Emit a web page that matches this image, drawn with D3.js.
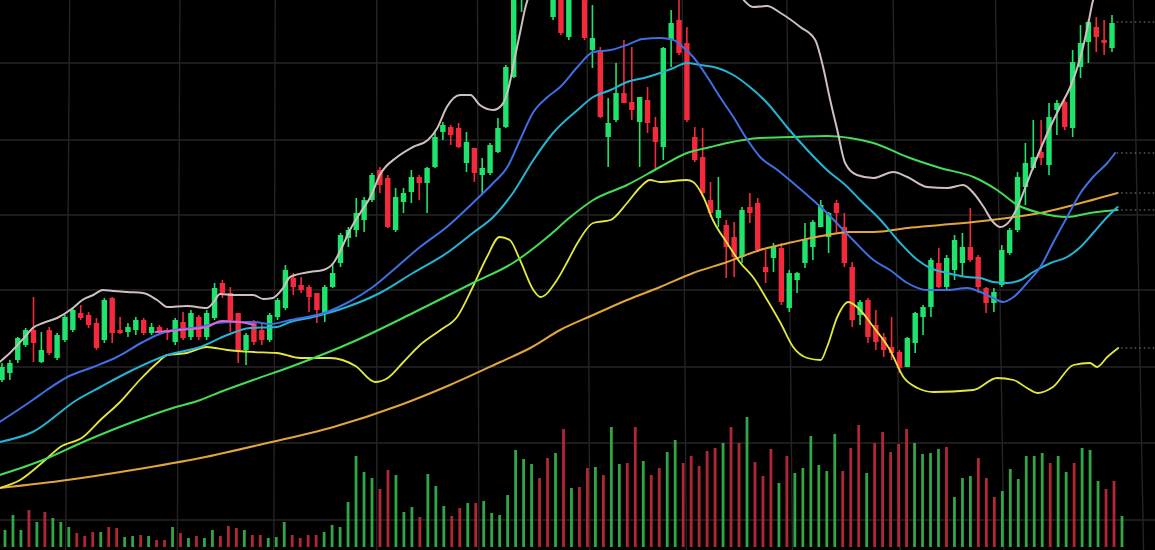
<!DOCTYPE html>
<html><head><meta charset="utf-8">
<script src="https://cdn.jsdelivr.net/npm/d3@7"></script>
<style>html,body{margin:0;padding:0;background:#000;overflow:hidden}</style>
</head><body><svg id="c" width="1155" height="550"></svg>
<script>
// ---- DATA ----
// candles: [open, high, low, close]
const candles = [
[17.0,18.7,16.8,18.3],[17.7,19.0,17.0,18.7],[19.0,21.3,18.7,21.2],[20.5,22.2,20.3,22.0],[22.0,25.3,18.8,20.7],
[18.8,21.8,18.7,20.0],[22.0,22.3,19.5,19.7],[19.2,21.7,19.0,21.5],[21.0,23.5,20.8,23.3],[22.0,24.2,21.8,24.0],
[23.7,24.5,23.0,23.2],[23.5,23.8,22.2,22.5],[22.7,23.2,20.0,20.2],[21.0,25.2,20.7,25.0],[25.2,25.3,20.7,21.7],
[22.0,23.3,21.6,21.7],[21.8,22.7,21.3,22.3],[22.0,23.3,21.5,23.0],[23.0,23.2,21.5,21.7],[21.7,22.7,21.5,22.3],
[22.3,22.5,21.6,21.8],[22.0,22.2,21.0,21.7],[20.8,23.2,20.5,23.0],[22.8,23.8,21.0,21.2],[21.3,24.0,21.0,23.7],
[23.3,23.5,21.0,21.3],[21.3,24.0,21.0,23.7],[23.2,26.7,23.0,26.2],[26.7,27.0,25.2,25.7],[25.7,26.3,21.8,23.0],
[23.7,23.7,18.7,20.0],[20.0,21.7,18.5,21.5],[22.8,23.0,20.5,20.8],[22.0,22.8,20.5,21.0],[21.0,23.7,20.8,23.5],
[23.3,25.2,23.0,25.0],[24.2,28.5,24.0,28.0],[27.2,27.7,25.5,26.3],[26.5,27.3,25.7,26.0],[26.3,26.5,23.8,25.3],
[25.7,25.7,22.7,24.0],[23.7,26.5,22.8,26.3],[26.3,28.7,26.2,27.7],[28.7,31.7,28.3,31.5],[31.2,32.3,30.3,32.0],
[32.0,35.2,31.3,33.7],[33.0,35.3,31.8,35.0],[35.0,37.7,34.8,37.5],[38.0,38.3,35.7,36.5],[37.2,37.5,32.2,32.3],
[32.0,36.2,31.8,35.3],[34.8,36.2,33.7,35.7],[35.8,38.0,34.7,37.3],[37.3,37.5,35.0,36.7],[36.7,38.3,33.7,38.2],
[38.3,41.8,38.2,41.3],[41.8,42.8,41.0,42.5],[42.3,42.5,40.5,41.5],[42.2,42.7,40.2,40.3],[38.7,41.8,37.8,40.8],
[40.2,40.2,36.8,37.7],[37.5,39.2,35.5,38.2],[37.7,40.7,37.5,40.5],[39.8,43.2,39.7,42.2],[42.3,48.5,42.2,48.3],
[47.3,56.5,47.2,55.5],[55.5,60.0,53.8,59.0],[59.0,62.0,57.0,61.0],[61.5,62.0,58.0,59.0],[59.5,60.0,56.0,56.5],
[53.3,57.0,53.0,56.5],[57.0,57.5,51.5,51.7],[51.3,57.0,51.0,56.0],[57.0,58.0,55.5,56.0],[56.0,57.0,51.0,51.2],
[50.0,54.5,48.2,51.2],[50.0,50.3,43.2,43.3],[41.3,45.2,38.3,42.7],[43.0,48.7,42.8,45.7],[45.7,51.0,44.7,44.7],
[44.8,50.3,43.0,44.0],[42.8,45.3,38.3,45.3],[45.0,46.3,41.7,42.7],[42.3,43.3,38.0,40.8],[40.3,50.3,39.0,50.2],
[51.0,54.0,48.3,52.7],[53.0,56.0,49.5,49.7],[50.7,52.3,42.8,43.0],[41.3,42.3,38.8,39.0],[39.3,42.2,35.3,35.7],
[35.0,36.8,33.3,33.7],[33.2,37.3,32.3,34.0],[32.5,33.0,27.2,30.3],[31.3,32.8,27.3,29.3],[29.3,34.3,28.7,34.0],
[34.3,35.7,32.7,33.7],[34.7,35.2,29.8,30.0],[28.3,30.0,26.7,27.8],[29.2,30.7,27.8,30.3],[30.2,30.7,24.5,24.8],
[24.2,28.0,23.8,27.7],[27.0,27.8,25.7,27.7],[28.7,32.7,28.2,31.0],[30.3,33.0,29.0,32.8],[32.3,35.0,32.3,34.5],
[31.3,33.8,29.7,33.7],[34.7,35.0,31.7,33.7],[32.3,33.7,28.3,28.7],[28.3,28.8,22.3,23.0],[23.5,25.0,22.5,24.8],
[25.0,25.2,20.7,21.3],[22.5,24.0,20.0,20.8],[21.3,21.7,19.3,20.0],[20.3,23.3,19.0,19.7],[19.8,20.0,17.7,18.2],
[18.3,21.3,18.3,21.2],[20.7,23.8,19.7,23.7],[23.3,24.5,21.5,24.3],[24.3,29.2,23.3,29.0],[28.7,30.2,26.2,26.3],
[26.3,29.5,26.0,29.2],[28.0,31.5,27.0,31.0],[28.7,31.7,27.3,30.3],[30.3,34.2,28.8,29.0],[29.3,29.5,25.7,26.3],
[26.2,26.3,23.7,24.7],[24.7,26.2,23.8,25.8],[26.5,30.5,26.3,30.0],[29.7,32.2,29.5,32.0],[32.0,37.8,31.8,37.3],
[36.3,40.7,34.5,38.7],[38.2,43.0,38.0,39.3],[39.8,43.0,38.5,39.2],[38.5,44.7,37.5,43.3],[44.0,45.0,41.5,44.7],
[44.8,45.0,42.0,42.3],[42.2,50.0,41.3,48.8],[48.3,52.5,47.2,50.7],[50.8,53.0,48.7,52.8],[52.3,53.3,49.8,51.3],
[51.0,53.0,49.5,50.7],[50.2,53.5,49.8,52.7]
];

const volumes = [
20,17,32,17,37,25,35,29,25,20, 14,11,15,15,20,19,10,11,12,11,
7,7,20,14,9,11,9,17,11,21, 19,17,12,12,9,10,25,12,9,12,
12,15,22,20,45,91,75,69,58,77, 72,35,40,30,73,61,41,31,39,44,
44,46,34,32,52,97,88,83,69,89, 94,118,59,60,79,80,72,120,83,84,
120,86,72,79,95,107,84,91,81,96, 99,104,120,104,130,85,71,98,64,91,
74,79,111,82,76,113,76,99,122,74, 104,115,95,103,118,104,93,94,98,100,
50,69,71,89,69,50,56,78,68,91, 91,94,84,91,75,84,99,97,66,58,
66,31
];

// moving-average style lines: [candle index, value]
const maWhite = [[-0.3,18.8],[1,19.7],[2.9,21.3],[3.9,22.2],[5.2,22.7],[7,23.2],[9,24.2],[10.2,25],[11.6,25.5],[12.8,26],[14.1,25.9],[15.9,25.8],[17.9,25.7],[19.7,25],[21,24.3],[23.5,24.4],[26,24.2],[26.8,24.7],[27.7,25.6],[29.4,25.5],[31.9,25.5],[33.2,25.1],[34.4,25.2],[35.7,26.2],[36.6,27.3],[39.1,27.8],[40.8,28],[42.1,28.7],[43.2,30.3],[44.2,32],[45.5,33.7],[46.8,35.3],[48,37.5],[50.2,39.3],[52.2,40.3],[54.1,41],[55.3,42.2],[56.5,44.3],[58.2,45.5],[59.5,45.5],[60.7,44.5],[62.4,44],[63.5,44.5],[64.5,46.7],[64.9,48.3],[65.8,51.7],[66.5,54.3],[67.7,56.5],[76,59],[88.7,58],[93.1,56],[95.4,54.3],[97.2,54.4],[98.9,53.7],[101.4,52.3],[103.3,51],[104.3,48.3],[105.2,45],[106.1,42],[107.1,38.7],[108.6,37.5],[110.7,37.2],[113.2,37.8],[115,37.3],[117.5,36.3],[120.1,36.2],[122.1,36.5],[123.4,35.7],[124.7,34.3],[125.9,32.8],[126.8,32.3],[128.1,33],[129,34.3],[130.2,36.7],[131.5,39.3],[132.8,41.7],[134.4,44.3],[135.7,46.3],[137,49.3],[137.9,52.3],[138.6,55],[139.5,56.5]];
const maBlue = [[-0.3,12.8],[3.9,15.0],[5.7,16.0],[8.3,17.3],[11.6,18.3],[14.6,19.3],[17.9,20.8],[19.7,21.5],[21.7,22.0],[25.2,22.3],[27.3,22.7],[29.4,22.8],[31.9,22.8],[34.1,22.6],[36.6,23.0],[41.3,23.8],[43.8,24.7],[47.1,26.3],[49.7,28.0],[53.1,30.3],[56.5,32.3],[59.8,34.7],[62.4,36.7],[64.2,38.3],[65.8,41.0],[67.5,43.8],[69.3,45.3],[70.9,46.3],[73.1,48.3],[75.1,49.8],[77.3,50.0],[79.4,50.5],[81.4,51.1],[83.6,51.2],[85.3,51.0],[86.5,50.3],[87.8,49.3],[89.6,47.3],[91.2,45.3],[92.9,43.3],[94.7,41.0],[96.3,39.3],[98.5,38.0],[100.5,36.7],[103.0,35.0],[104.8,33.7],[106.5,32.3],[108.1,31.0],[110.7,29.0],[112.8,28.0],[115.0,26.7],[117.5,26.0],[120.1,26.0],[122.6,26.2],[124.3,25.8],[125.9,25.2],[127.2,24.8],[128.5,25.3],[130.2,26.7],[131.9,28.3],[133.5,30.7],[135.3,33.3],[137.0,35.7],[138.6,37.3],[140.4,38.7],[141.4,39.7]];
const maCyan = [[-0.3,10.8],[3.9,11.8],[9.5,15.0],[12.5,16.3],[16.6,18.0],[21.0,19.5],[25.2,20.3],[28.6,21.5],[31.5,22.2],[34.9,22.3],[36.6,22.8],[39.5,23.3],[43.8,24.3],[48.0,25.7],[52.2,27.7],[56.5,29.7],[59.8,31.7],[62.4,33.3],[64.9,35.7],[67.5,39.0],[70.0,41.7],[73.1,44.0],[75.1,45.3],[77.3,46.0],[79.4,46.8],[82.0,47.3],[83.6,47.7],[85.3,48.2],[87.0,48.7],[88.7,48.5],[90.9,48.2],[92.9,47.5],[95.0,46.3],[97.2,44.7],[99.7,42.3],[102.3,40.0],[104.8,38.0],[107.4,36.3],[109.0,35.0],[111.6,33.0],[114.1,30.7],[116.3,29.0],[117.9,28.2],[120.1,27.7],[122.6,27.3],[124.3,27.2],[125.9,26.8],[127.7,26.7],[129.4,27.0],[131.0,27.8],[133.2,28.7],[135.3,29.3],[137.0,30.3],[138.6,31.7],[140.4,33.3],[141.7,34.3]];
const maGreen = [[-0.3,7.5],[5.2,9.0],[10.3,10.8],[16.6,12.8],[21.7,14.2],[25.2,15.0],[27.7,15.8],[31.9,17.0],[36.6,18.3],[45.1,21.0],[52.2,23.7],[59.8,26.7],[64.9,28.7],[69.3,31.3],[72.2,33.3],[75.1,35.0],[79.4,36.5],[83.6,38.3],[87.0,39.7],[90.0,40.3],[92.1,40.7],[96.3,41.2],[100.5,41.3],[104.8,41.4],[107.7,41.2],[110.7,40.7],[115.0,39.3],[119.2,38.2],[123.4,37.3],[126.4,36.0],[129.0,34.5],[131.9,33.7],[135.3,33.3],[138.2,33.7],[141.7,34.0]];
const maYellow = [[-0.3,6.2],[2.3,7.0],[5.2,8.8],[7.4,10.3],[10.3,11.3],[12.5,13.0],[15.0,14.8],[17.5,17.0],[19.7,18.7],[21.0,19.5],[23.5,19.7],[26.0,20.3],[28.6,20.0],[31.9,19.8],[34.9,19.7],[37.9,19.2],[41.7,19.2],[44.9,18.4],[47.4,16.8],[49.0,17.2],[51.0,18.8],[53.1,20.5],[55.7,22.0],[57.8,23.3],[59.8,26.3],[61.6,29.3],[63.2,31.3],[64.5,31.0],[65.8,29.0],[67.5,26.0],[68.4,25.3],[70.5,27.0],[71.8,28.8],[73.1,30.7],[75.1,32.7],[77.3,33.0],[79.4,34.7],[81.1,36.3],[82.3,37.0],[83.6,36.8],[87.0,37.0],[87.8,36.8],[89.1,35.3],[90.3,33.0],[92.1,30.7],[93.8,28.7],[95.4,27.3],[97.2,25.0],[98.9,22.7],[100.5,20.3],[102.3,19.2],[104.0,19.0],[104.8,20.3],[106.1,23.3],[107.5,24.8],[109.0,24.0],[110.7,22.3],[112.8,20.0],[114.5,17.3],[116.3,16.2],[118.3,15.8],[123.4,16.0],[126.4,17.2],[128.5,17.0],[130.2,16.2],[131.5,15.7],[133.5,16.3],[136.1,18.5],[138.2,18.7],[139.1,18.3],[140.4,19.3],[141.8,20.2]];
const maOrange = [[-0.3,6.2],[8.3,7.0],[16.6,8.0],[25.2,9.2],[33.7,10.7],[42.1,12.3],[50.6,14.5],[56.9,16.5],[63.3,18.8],[67.1,20.2],[70.9,22.0],[75.1,23.5],[79.4,25.0],[83.6,26.3],[87.8,27.7],[92.1,28.8],[96.3,30.0],[100.5,30.8],[104.8,31.5],[107.7,31.8],[110.7,31.8],[115.0,32.2],[119.2,32.5],[123.4,32.8],[127.7,33.2],[131.9,33.7],[136.1,34.5],[141.7,35.7]];
const maMagenta = [[19.5,21.8],[22.6,22.0],[26.0,22.3],[27.9,22.9],[30.2,22.8],[32.1,22.5]];

// last-value markers at the right edge
const lastMarks = [52.8, 39.7, 35.7, 34.0, 20.2];
// grid positions
const gridPrice = [48.7, 41.0, 33.5, 26.0, 18.3, 10.7, 3.0];
const gridIdx = [8.6, 22.6, 34.7, 47.6, 60.4, 74.3, 86.4, 99.7, 113.2, 126.2, 143.7];

// ---- DRAW ----
const W = 1155, H = 550;
const svg = d3.select("#c");
svg.append("rect").attr("width", W).attr("height", H).attr("fill", "#000");

const x = d3.scaleLinear().domain([0, 141]).range([2, 1112]);
const xv = d3.scaleLinear().domain([0, 141]).range([-3, 1122]);
const y = d3.scaleLinear().domain([0, 55]).range([550, 0]);
const yv = d3.scaleLinear().domain([0, 130]).range([547, 417]);

const grid = svg.append("g").attr("stroke", "#242424").attr("stroke-width", 1.4);
grid.selectAll("line.h").data(gridPrice).join("line").attr("class", "h")
  .attr("x1", 0).attr("x2", W).attr("y1", d => y(d)).attr("y2", d => y(d));
grid.selectAll("line.v").data(gridIdx).join("line").attr("class", "v")
  .attr("x1", d => x(d)).attr("x2", d => xv(d)).attr("y1", 0).attr("y2", H);

const UP = "#1fe36c", DOWN = "#f42a3c";
const VUP = "#35b84c", VDOWN = "#c72a3c";
const isUp = i => candles[i][3] >= candles[i][0];

// volume
svg.append("g").selectAll("rect").data(volumes).join("rect")
  .attr("x", (d, i) => xv(i) - 1.4).attr("width", 2.8)
  .attr("y", d => yv(d)).attr("height", d => yv(0) - yv(d))
  .attr("fill", (d, i) => isUp(i) ? VUP : VDOWN).attr("opacity", 0.9);

// candles
const cg = svg.append("g");
cg.selectAll("line").data(candles).join("line")
  .attr("x1", (d, i) => x(i)).attr("x2", (d, i) => x(i))
  .attr("y1", d => y(d[1])).attr("y2", d => y(d[2]))
  .attr("stroke", (d, i) => isUp(i) ? UP : DOWN).attr("stroke-width", 1.6);
cg.selectAll("rect").data(candles).join("rect")
  .attr("x", (d, i) => x(i) - 2.7).attr("width", 5.4)
  .attr("y", d => y(Math.max(d[0], d[3])))
  .attr("height", d => Math.max(1.5, Math.abs(y(d[0]) - y(d[3]))))
  .attr("fill", (d, i) => isUp(i) ? UP : DOWN);

// lines
const line = d3.line().x(d => x(d[0])).y(d => y(d[1])).curve(d3.curveMonotoneX);
const series = [
  {d: maOrange, c: "#e0a63c", w: 2},
  {d: maYellow, c: "#e2e83e", w: 1.8},
  {d: maGreen, c: "#47dc55", w: 2},
  {d: maCyan, c: "#25b4d4", w: 2},
  {d: maBlue, c: "#3f6fe2", w: 2},
  {d: maMagenta, c: "#d865d2", w: 1.8},
  {d: maWhite, c: "#cfbfbf", w: 2}
];
svg.append("g").selectAll("path").data(series).join("path")
  .attr("d", s => line(s.d)).attr("fill", "none")
  .attr("stroke", s => s.c).attr("stroke-width", s => s.w)
  .attr("stroke-linejoin", "round").attr("stroke-linecap", "round");

// right edge dotted markers
svg.append("g").selectAll("line").data(lastMarks).join("line")
  .attr("x1", x(141.6)).attr("x2", W).attr("y1", d => y(d)).attr("y2", d => y(d))
  .attr("stroke", "#8a8a8a").attr("stroke-width", 1.2).attr("stroke-dasharray", "1.5,3");
</script>
</body></html>
